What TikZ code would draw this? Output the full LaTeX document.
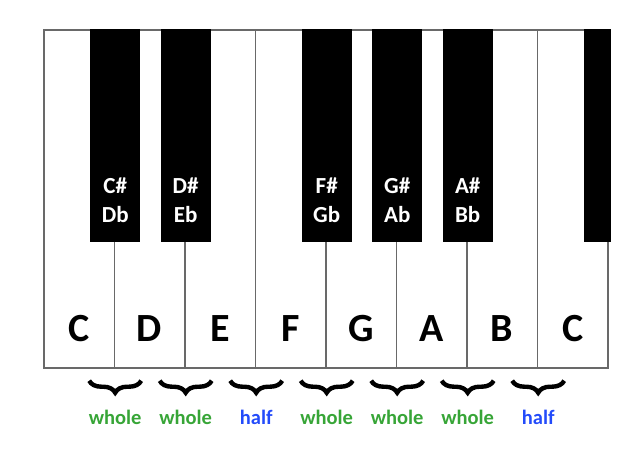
\documentclass[tikz,border=0pt]{standalone}
\usepackage{fontspec}
\setmainfont{Carlito}
\usetikzlibrary{decorations.pathreplacing, positioning}

\definecolor{keyline}{RGB}{105,105,105}
\definecolor{wholegreen}{RGB}{55,165,55}
\definecolor{halfblue}{RGB}{35,75,250}

\begin{document}
\begin{tikzpicture}[x=1pt, y=-1pt]
    \tikzstyle{wkey}=[draw=keyline, line width=1.7pt, fill=white, inner sep=0pt, minimum width=70.5pt, minimum height=338pt, anchor=north west]
    \tikzstyle{bkey}=[fill=black, inner sep=0pt, minimum width=50pt, minimum height=213pt, anchor=north]
    \tikzstyle{letter}=[font=\bfseries\fontsize{40}{40}\selectfont, anchor=base, inner sep=0pt]
    \tikzstyle{sharp}=[font=\bfseries\fontsize{23}{29}\selectfont, text=white, align=center, inner sep=0pt]
    \tikzstyle{brace}=[decorate, decoration={brace, mirror, amplitude=12pt}, line width=4.4pt]
    \tikzstyle{interval}=[font=\bfseries\fontsize{20.5}{20.5}\selectfont, anchor=base, inner sep=0pt]

    \useasboundingbox (0,0) rectangle (640,455);

    % white keys
    \node[wkey] (w1) at (43,29) {};
    \node[wkey] (w2) at (113.5,29) {};
    \node[wkey] (w3) at (184,29) {};
    \node[wkey] (w4) at (254.5,29) {};
    \node[wkey] (w5) at (325,29) {};
    \node[wkey] (w6) at (395.5,29) {};
    \node[wkey] (w7) at (466,29) {};
    \node[wkey] (w8) at (536.5,29) {};

    \node[letter] (C1) at ([yshift=27pt]w1.south) {C};
    \node[letter] (D)  at ([yshift=27pt]w2.south) {D};
    \node[letter] (E)  at ([yshift=27pt]w3.south) {E};
    \node[letter] (F)  at ([yshift=27pt]w4.south) {F};
    \node[letter] (G)  at ([yshift=27pt]w5.south) {G};
    \node[letter] (A)  at ([yshift=27pt]w6.south) {A};
    \node[letter] (B)  at ([yshift=27pt]w7.south) {B};
    \node[letter] (C2) at ([yshift=27pt]w8.south) {C};

    % black keys
    \node[bkey] (Cs) at (w1.north east) {};
    \node[bkey] (Ds) at (w2.north east) {};
    \node[bkey] (Fs) at (w4.north east) {};
    \node[bkey] (Gs) at (w5.north east) {};
    \node[bkey] (As) at (w6.north east) {};
    \node[bkey, minimum width=27pt, anchor=north west] (Cs2) at ([xshift=-25pt]w8.north east) {};

    \node[sharp] at ([yshift=42pt]Cs.south) {C\#\\Db};
    \node[sharp] at ([yshift=42pt]Ds.south) {D\#\\Eb};
    \node[sharp] at ([yshift=42pt]Fs.south) {F\#\\Gb};
    \node[sharp] at ([yshift=42pt]Gs.south) {G\#\\Ab};
    \node[sharp] at ([yshift=42pt]As.south) {A\#\\Bb};

    % steps between the white keys
    \draw[brace] ([shift={(-26pt,-12pt)}]w1.south east) -- ([shift={(26pt,-12pt)}]w1.south east);
    \draw[brace] ([shift={(-26pt,-12pt)}]w2.south east) -- ([shift={(26pt,-12pt)}]w2.south east);
    \draw[brace] ([shift={(-26pt,-12pt)}]w3.south east) -- ([shift={(26pt,-12pt)}]w3.south east);
    \draw[brace] ([shift={(-26pt,-12pt)}]w4.south east) -- ([shift={(26pt,-12pt)}]w4.south east);
    \draw[brace] ([shift={(-26pt,-12pt)}]w5.south east) -- ([shift={(26pt,-12pt)}]w5.south east);
    \draw[brace] ([shift={(-26pt,-12pt)}]w6.south east) -- ([shift={(26pt,-12pt)}]w6.south east);
    \draw[brace] ([shift={(-26pt,-12pt)}]w7.south east) -- ([shift={(26pt,-12pt)}]w7.south east);

    \node[interval, text=wholegreen] (s1) at ([yshift=-56pt]w1.south east) {whole};
    \node[interval, text=wholegreen] (s2) at ([yshift=-56pt]w2.south east) {whole};
    \node[interval, text=halfblue]   (s3) at ([yshift=-56pt]w3.south east) {half};
    \node[interval, text=wholegreen] (s4) at ([yshift=-56pt]w4.south east) {whole};
    \node[interval, text=wholegreen] (s5) at ([yshift=-56pt]w5.south east) {whole};
    \node[interval, text=wholegreen] (s6) at ([yshift=-56pt]w6.south east) {whole};
    \node[interval, text=halfblue]   (s7) at ([yshift=-56pt]w7.south east) {half};
\end{tikzpicture}
\end{document}
